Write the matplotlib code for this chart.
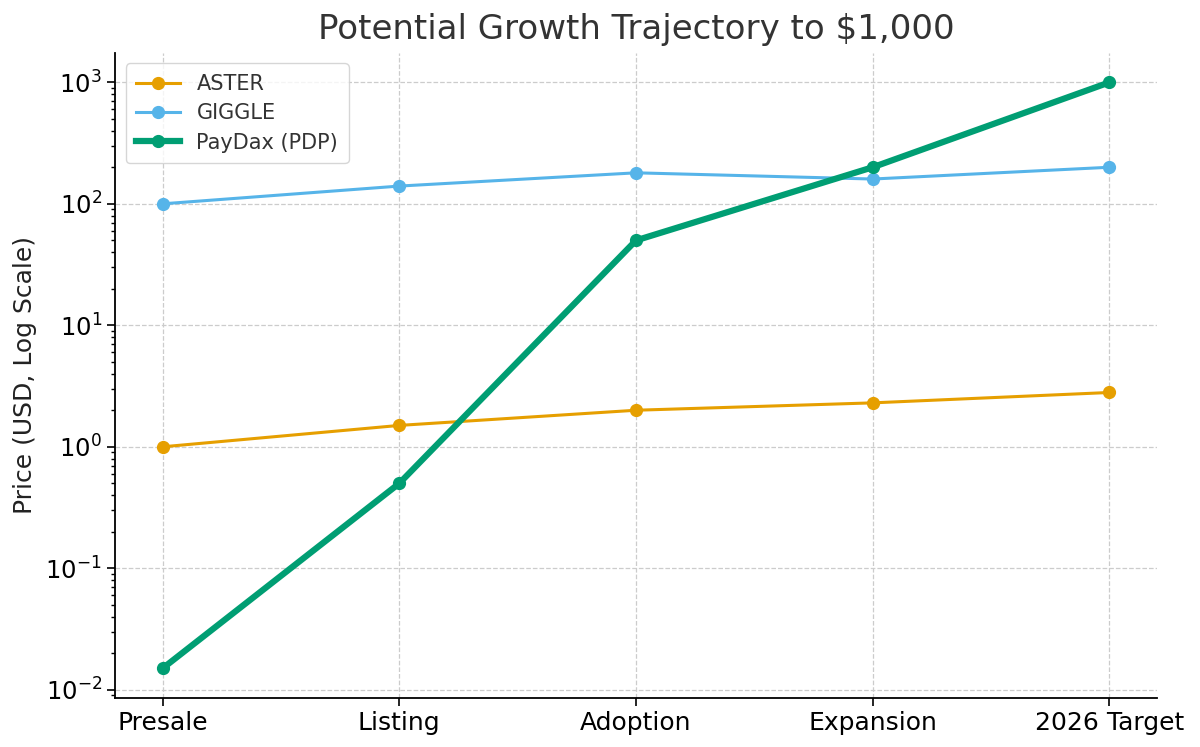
import matplotlib
matplotlib.use("Agg")
import matplotlib.pyplot as plt

stages = ["Presale", "Listing", "Adoption", "Expansion", "2026 Target"]
aster = [1.0, 1.5, 2.0, 2.3, 2.8]
giggle = [100, 140, 180, 160, 200]
paydax = [0.015, 0.5, 50, 200, 1000]

plt.rcParams["font.family"] = "DejaVu Sans"

fig = plt.figure(figsize=(12, 7.47), dpi=100)
ax = fig.add_axes([0.096, 0.066, 0.868, 0.863])

x = range(len(stages))
ax.plot(x, aster, marker="o", color="#E69F00", lw=2.2, ms=8.5, label="ASTER")
ax.plot(x, giggle, marker="o", color="#56B4E9", lw=2.2, ms=8.5, label="GIGGLE")
ax.plot(x, paydax, marker="o", color="#009E73", lw=4.5, ms=8.5, label="PayDax (PDP)")

ax.set_yscale("log")
ax.set_xticks(list(x))
ax.set_xticklabels(stages)
ax.set_xlim(-0.2, 4.2)

ax.set_title("Potential Growth Trajectory to \\$1,000", fontsize=24.5, color="#333333", pad=10)
ax.set_ylabel("Price (USD, Log Scale)", fontsize=18, color="#222222", labelpad=6)
ax.tick_params(axis="x", which="major", labelsize=18, length=6, width=1.2)
ax.tick_params(axis="y", which="major", labelsize=17.5, length=6, width=1.2)
ax.tick_params(axis="y", which="minor", length=3, width=1)

ax.grid(True, which="major", linestyle="--", color="#cccccc", linewidth=0.9)
ax.set_axisbelow(True)
for side in ["top", "right"]:
    ax.spines[side].set_visible(False)
for side in ["left", "bottom"]:
    ax.spines[side].set_linewidth(1.3)

leg = ax.legend(loc="upper left", fontsize=15, frameon=True, borderpad=0.5,
                handlelength=2.1, labelspacing=0.45)
leg.get_frame().set_edgecolor("#cccccc")
for t in leg.get_texts():
    t.set_color("#333333")

fig.savefig("out.png", dpi=100)
